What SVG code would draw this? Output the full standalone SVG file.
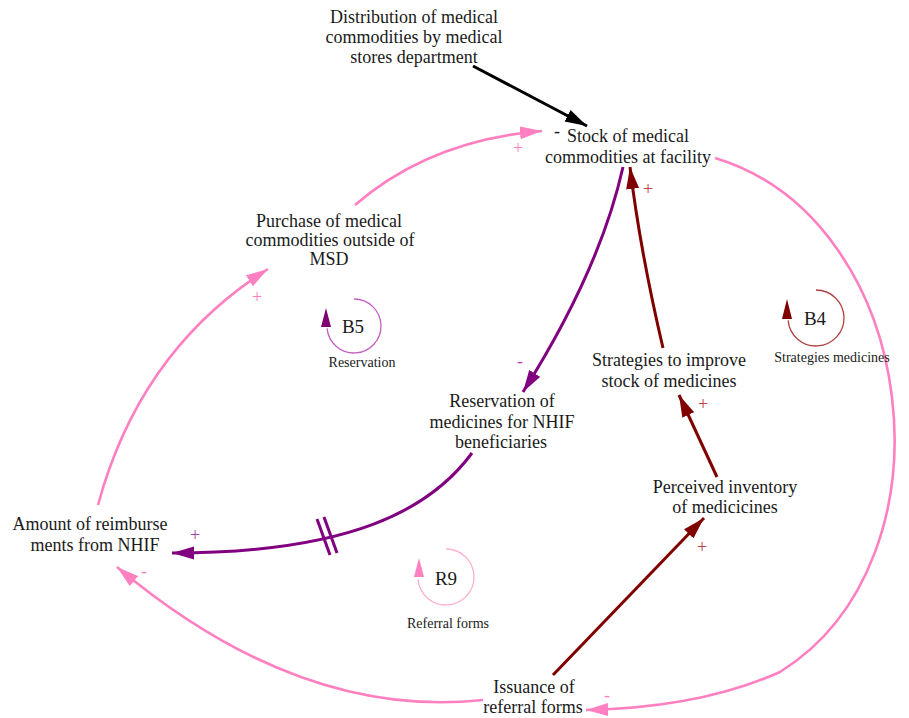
<svg xmlns="http://www.w3.org/2000/svg" width="909" height="718" viewBox="0 0 909 718">
<style>
.lbl{font-family:"Liberation Serif","Times New Roman",serif;font-size:18px;fill:#1a1a1a;text-anchor:middle}
.loopid{font-family:"Liberation Serif","Times New Roman",serif;font-size:19px;fill:#1a1a1a;text-anchor:middle}
.loopname{font-family:"Liberation Serif","Times New Roman",serif;font-size:14px;fill:#1a1a1a;text-anchor:middle}
.sign{font-family:"Liberation Serif","Times New Roman",serif;font-size:18px;text-anchor:middle;dominant-baseline:central}
.c{fill:none;stroke-linecap:butt}
.pink{stroke:#ff80c0;stroke-width:2.6}
.purple{stroke:#800080;stroke-width:3}
.dred{stroke:#800000;stroke-width:3}
.black{stroke:#000;stroke-width:3}
</style>
<defs>
<marker id="aBlack" markerUnits="userSpaceOnUse" markerWidth="24" markerHeight="14" refX="22" refY="7" orient="auto"><path d="M0,0.5 L22,7 L0,13.5 Z" fill="#000"/></marker>
<marker id="aPink" markerUnits="userSpaceOnUse" markerWidth="24" markerHeight="14" refX="22" refY="7" orient="auto"><path d="M0,0.5 L22,7 L0,13.5 Z" fill="#ff80c0"/></marker>
<marker id="aPurple" markerUnits="userSpaceOnUse" markerWidth="24" markerHeight="14" refX="22" refY="7" orient="auto"><path d="M0,0.5 L22,7 L0,13.5 Z" fill="#800080"/></marker>
<marker id="aRed" markerUnits="userSpaceOnUse" markerWidth="24" markerHeight="14" refX="22" refY="7" orient="auto"><path d="M0,0.5 L22,7 L0,13.5 Z" fill="#800000"/></marker>
</defs>
<rect width="909" height="718" fill="#fff"/>

<g id="connectors">
<path class="c black" d="M473,66 L587,126" marker-end="url(#aBlack)"/>
<path class="c pink" d="M355,205 Q430,140 542,131" marker-end="url(#aPink)"/>
<path class="c pink" d="M98,505 Q140,350 268,269" marker-end="url(#aPink)"/>
<path class="c purple" d="M623,167 Q600,270 523,392" marker-end="url(#aPurple)"/>
<path class="c purple" d="M472,453 C430,510 350,553 172,553" marker-end="url(#aPurple)"/>
<line class="c purple" x1="317" y1="519" x2="330" y2="555" stroke-width="2"/>
<line class="c purple" x1="324" y1="517" x2="337" y2="553" stroke-width="2"/>
<path class="c dred" d="M663,348 Q640,250 630,167" marker-end="url(#aRed)"/>
<path class="c dred" d="M717,477 L679,395" marker-end="url(#aRed)"/>
<path class="c dred" d="M553,675 L704,518" marker-end="url(#aRed)"/>
<path class="c pink" d="M715,158 C920,220 960,560 780,672 Q700,708 586,710" marker-end="url(#aPink)"/>
<path class="c pink" d="M483,700 Q300,720 117,567" marker-end="url(#aPink)"/>
</g>

<g id="signs">
<text class="sign" x="518" y="148" fill="#ff80c0">+</text>
<text class="sign" x="557" y="131" fill="#1a1a1a" font-size="13">-</text>
<text class="sign" x="257" y="297" fill="#ff80c0">+</text>
<text class="sign" x="520" y="361" fill="#c040c0">-</text>
<text class="sign" x="648" y="189" fill="#c04040">+</text>
<text class="sign" x="703" y="404" fill="#c04040">+</text>
<text class="sign" x="702" y="547" fill="#c04040">+</text>
<text class="sign" x="195" y="535" fill="#a040a0">+</text>
<text class="sign" x="144" y="571" fill="#ff80c0">-</text>
<text class="sign" x="607" y="695" fill="#ff80c0">-</text>
</g>

<g id="distribution">
<text class="lbl" x="414" y="23">Distribution of medical</text>
<text class="lbl" x="414" y="43">commodities by medical</text>
<text class="lbl" x="414" y="63">stores department</text>
</g>
<g id="stock">
<text class="lbl" x="628" y="142">Stock of medical</text>
<text class="lbl" x="628" y="163">commodities at facility</text>
</g>
<g id="purchase">
<text class="lbl" x="329" y="227">Purchase of medical</text>
<text class="lbl" x="330" y="246">commodities outside of</text>
<text class="lbl" x="329" y="265">MSD</text>
</g>
<g id="reservation">
<text class="lbl" x="502" y="407">Reservation of</text>
<text class="lbl" x="502" y="428">medicines for NHIF</text>
<text class="lbl" x="501" y="448">beneficiaries</text>
</g>
<g id="strategies">
<text class="lbl" x="669" y="366">Strategies to improve</text>
<text class="lbl" x="669" y="387">stock of medicines</text>
</g>
<g id="perceived">
<text class="lbl" x="725" y="493">Perceived inventory</text>
<text class="lbl" x="725" y="513">of medicicines</text>
</g>
<g id="amount">
<text class="lbl" x="90" y="530">Amount of reimburse</text>
<text class="lbl" x="95" y="551">ments from NHIF</text>
</g>
<g id="issuance">
<text class="lbl" x="534" y="693">Issuance of</text>
<text class="lbl" x="533" y="713">referral forms</text>
</g>

<g id="loop-B5">
<path d="M354,299 A27,27 0 1 1 327.1,328.4" fill="none" stroke="#c060c0" stroke-width="1.3"/>
<polygon points="326,308 321,327 331,327" fill="#800070"/>
<text class="loopid" x="353" y="333">B5</text>
<text class="loopname" x="362" y="367">Reservation</text>
</g>
<g id="loop-B4">
<path d="M816,290 A28,28 0 1 1 788.1,320.4" fill="none" stroke="#b04040" stroke-width="1.3"/>
<polygon points="787,299 782,319 792,319" fill="#800000"/>
<text class="loopid" x="815" y="325">B4</text>
<text class="loopname" x="832" y="362">Strategies medicines</text>
</g>
<g id="loop-R9">
<path d="M446,549 A28,28 0 1 1 418.1,579.4" fill="none" stroke="#ffb0d0" stroke-width="1.3"/>
<polygon points="419,558 414,577 424,577" fill="#ff80c0"/>
<text class="loopid" x="446" y="585">R9</text>
<text class="loopname" x="448" y="628">Referral forms</text>
</g>
</svg>
